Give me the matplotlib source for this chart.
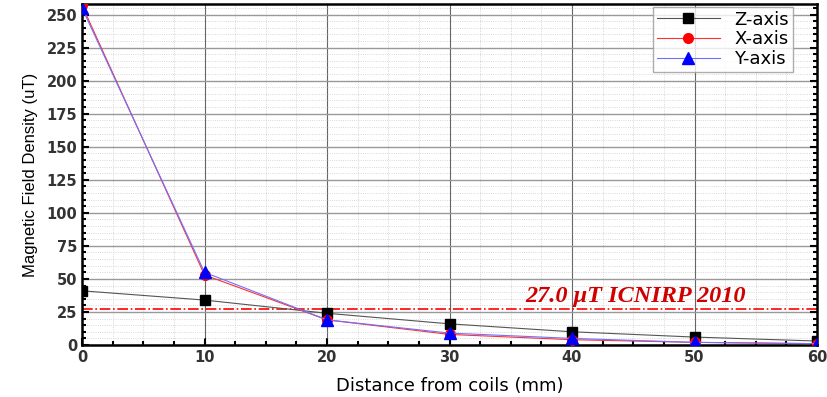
import matplotlib
matplotlib.use("Agg")
import matplotlib.pyplot as plt
from matplotlib.ticker import MultipleLocator

distance = [0, 10, 20, 30, 40, 50, 60]
z_axis = [41, 34, 24, 16, 10, 6, 3]
x_axis = [257, 53, 19, 8, 4, 2, 1]
y_axis = [255, 55, 19, 9, 5, 2, 1]
icnirp_limit = 27.0

plt.rcParams["font.family"] = ["DejaVu Sans"]

fig = plt.figure(figsize=(8.27, 3.97), dpi=100)
ax = fig.add_axes([82 / 827, 52 / 397, 735 / 827, 341 / 397])

ax.plot(distance, z_axis, color="#555555", lw=0.8, marker="s", ms=7,
        mfc="black", mec="black", label="Z-axis", zorder=3)
ax.plot(distance, x_axis, color="#ff3030", lw=0.8, marker="o", ms=7,
        mfc="red", mec="red", label="X-axis", zorder=4)
ax.plot(distance, y_axis, color="#7070ff", lw=0.8, marker="^", ms=8,
        mfc="blue", mec="blue", label="Y-axis", zorder=5)

ax.axhline(icnirp_limit, color="red", lw=1.2, ls="-.", zorder=2)
ax.text(45.2, 37, "27.0 μT ICNIRP 2010", color="#d00000", fontsize=17.5,
        fontweight="bold", fontstyle="italic", family="Liberation Serif",
        ha="center", va="center")

ax.set_xlim(0, 60)
ax.set_ylim(0, 258)
ax.xaxis.set_major_locator(MultipleLocator(10))
ax.xaxis.set_minor_locator(MultipleLocator(2.5))
ax.yaxis.set_major_locator(MultipleLocator(25))
ax.yaxis.set_minor_locator(MultipleLocator(5))

ax.grid(which="major", axis="y", color="#999999", lw=1.0)
ax.grid(which="major", axis="x", color="#666666", lw=0.8)
ax.grid(which="minor", color="#cccccc", lw=0.6, ls=":")
ax.set_axisbelow(True)

ax.tick_params(which="both", direction="in", top=False, right=True,
               width=1.5, labelsize=10.5)
ax.tick_params(which="major", length=5)
ax.tick_params(which="minor", length=3)
for lbl in ax.get_xticklabels() + ax.get_yticklabels():
    lbl.set_fontweight("bold")
    lbl.set_color("#333333")
for sp in ax.spines.values():
    sp.set_linewidth(1.8)

ax.set_xlabel("Distance from coils (mm)", fontsize=13, labelpad=9)
ax.set_ylabel("Magnetic Field Density (uT)", fontsize=12,
              family="Liberation Sans", labelpad=6)

leg = ax.legend(loc="upper right", bbox_to_anchor=(0.967, 0.991),
                fontsize=13, frameon=True, fancybox=False,
                edgecolor="#999999", handlelength=3.5, borderpad=0.2,
                labelspacing=0.1, borderaxespad=0.0)
leg.get_frame().set_linewidth(1.0)

fig.savefig("out.png", dpi=100)
